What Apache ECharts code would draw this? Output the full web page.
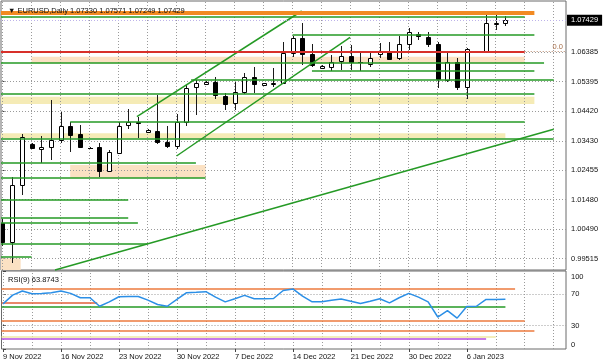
<!DOCTYPE html>
<html><head><meta charset="utf-8">
<script src="https://cdn.jsdelivr.net/npm/echarts@6/dist/echarts.min.js"></script>
<style>html,body{margin:0;padding:0;background:#fff}#c{width:605px;height:363px}</style>
</head><body><div id="c"></div>
<script>
// ---------- data ----------
const titleText = '\u25BC EURUSD,Daily 1.07330 1.07571 1.07249 1.07429';
const rsiText = 'RSI(9) 63.8743';
const tickBars = [0, 6, 12, 18, 24, 30, 36, 42, 48];
const tickLabels = ['9 Nov 2022', '16 Nov 2022', '23 Nov 2022', '30 Nov 2022', '7 Dec 2022', '14 Dec 2022', '21 Dec 2022', '30 Dec 2022', '6 Jan 2023'];
const gridBars = [0, 3, 6, 9, 12, 15, 18, 21, 24, 27, 30, 33, 36, 39, 42, 45, 48, 51, 54, 57];
const priceTicks = [0.99515, 1.00490, 1.01480, 1.02455, 1.03430, 1.04420, 1.05395, 1.06385];
const rsiTicks = [0, 30, 70, 100];
const rsiGrid = [30, 70];
const lastPrice = 1.07429;

const opens  = [1.00709,1.00079,1.01961,1.03322,1.03146,1.03213,1.03455,1.03920,1.03644,1.03205,
                1.03213,1.02426,1.03033,1.03950,1.04040,1.03721,1.03754,1.03399,1.03256,1.04063,
                1.05225,1.05314,1.05391,1.04916,1.04673,1.05058,1.05537,1.05281,1.05330,1.05357,
                1.06333,1.06831,1.06310,1.05835,1.05889,1.06088,1.06244,1.06050,1.05978,1.06300,
                1.06387,1.06167,1.06632,1.06974,1.06865,1.06632,1.05447,1.06055,1.05225,1.06390,
                1.06420,1.07320,1.07330];
const highs  = [1.00832,1.02237,1.03644,1.03355,1.03588,1.04783,1.04395,1.04063,1.03950,1.03223,
                1.03345,1.03123,1.04063,1.04474,1.04229,1.03804,1.04949,1.03920,1.04318,1.05281,
                1.05447,1.05430,1.05537,1.05016,1.05391,1.05670,1.05889,1.05347,1.05845,1.06719,
                1.06908,1.07350,1.06642,1.05945,1.06277,1.06576,1.06609,1.06387,1.06333,1.06685,
                1.06719,1.06908,1.07163,1.07051,1.07051,1.06719,1.06387,1.06177,1.06499,1.06426,
                1.07605,1.07605,1.07571];
const lows   = [0.99936,0.99361,1.01629,1.03156,1.02701,1.02791,1.03345,1.03067,1.03199,1.03173,
                1.02217,1.02403,1.03013,1.03810,1.03511,1.03704,1.03322,1.03199,1.03146,1.03920,
                1.04285,1.05281,1.04806,1.04451,1.04451,1.04972,1.05025,1.05265,1.05215,1.05330,
                1.06201,1.05945,1.05889,1.05812,1.05756,1.05779,1.05779,1.05756,1.05889,1.06167,
                1.06111,1.06111,1.06443,1.06775,1.06553,1.05171,1.05391,1.05115,1.04806,1.06360,
                1.06377,1.07107,1.07249];
const closes = [1.00079,1.01961,1.03545,1.03179,1.03213,1.03455,1.03920,1.03621,1.03233,1.03199,
                1.02426,1.03047,1.03930,1.04040,1.04010,1.03787,1.03399,1.03256,1.04063,1.05181,
                1.05338,1.05391,1.04949,1.04660,1.05058,1.05557,1.05314,1.05338,1.05360,1.06333,
                1.06831,1.06310,1.05945,1.05922,1.06055,1.06244,1.06045,1.06040,1.06167,1.06370,
                1.06144,1.06632,1.07051,1.06908,1.06642,1.05470,1.06055,1.05205,1.06466,1.06387,
                1.07330,1.07330,1.07429];
const rsi = [57.8,69.1,74.3,70.9,71.3,72.2,74.3,71.3,65.7,65.7,
             54.8,60.4,67.0,67.4,67.4,62.6,57.0,54.8,63.5,72.2,
             72.6,73.5,66.5,60.4,64.4,68.7,64.4,64.4,64.8,75.0,
             77.0,67.8,60.5,60.5,62.6,64.0,61.3,58.3,61.3,64.4,
             59.2,65.7,71.3,66.5,60.5,41.0,49.2,39.6,54.5,54.8,
             63.5,63.5,63.87];

// drawn analysis objects (price, fromBar, toBar); null = from chart's left edge / to right edge
const greenLevels = [[1.07562,null,54],[1.06941,30,55],[1.06021,null,56],[1.05746,32,55],[1.05447,19.5,57],
                     [1.05005,null,55],[1.04063,7,54],[1.03512,null,57],[1.02691,null,20],[1.02193,null,21],
                     [1.01463,null,13],[1.00889,null,13],[1.00722,null,14],[1.00002,null,15],[0.99581,null,3]];
const trendLines = [[13.9,1.04229,30.94,1.07738],[18,1.02924,35.94,1.06865],[5.43,0.99139,57,1.03810]];
const redLevel = [1.06387, null, 54];
const orangeLevel = [1.07695, null, 55];
const zones = [[1.06221,1.06002,3,54,'peach'],[1.04893,1.04650,null,55,'yellow'],[1.03678,1.03512,null,52,'yellow'],
               [1.02625,1.02193,7,21,'peach'],[0.99527,0.99139,null,1.88,'peach']];
const rsiLevels = [[77.4,null,53,'orange'],[59.2,null,9.75,'red'],[54.8,null,52,'green'],[36.1,null,54,'orange'],
                   [23.1,null,55,'orange'],[15.7,null,51,'paleyellow'],[12.8,null,50,'purple']];

// ---------- chart ----------
const XMIN = -0.155, XMAX = 58.27, PMIN = 0.99139, PMAX = 1.0807;
const FONT = 'Liberation Sans';
const COL = {green:'#259a25', red:'#d8302a', orange:'#f28a22', peach:'#fbe1c3', yellow:'#f5ebb6',
             paleyellow:'#efe9a6', purple:'#b64fe0', rsiorange:'#ec7a3e', rsired:'#e2603a', blue:'#2b8fe6',
             grid:'#9a9a9a'};
const L = v => v === null ? XMIN : v;
const R = v => v === null ? XMAX : v;

function renderCandle(params, api) {
  const i = api.value(0), o = api.value(1), c = api.value(2), l = api.value(3), h = api.value(4);
  const po = api.coord([i, o]), pc = api.coord([i, c]), pl = api.coord([i, l]), ph = api.coord([i, h]);
  const x = Math.round(po[0]) + 0.5;
  const yt = Math.round(Math.min(po[1], pc[1])) + 0.5, yb = Math.round(Math.max(po[1], pc[1])) + 0.5;
  const children = [{type:'line', shape:{x1:x, y1:Math.round(ph[1]), x2:x, y2:Math.round(pl[1])}, style:{stroke:'#1a1a1a', lineWidth:1}}];
  if (yb - yt < 1) {
    children.push({type:'line', shape:{x1:x-2.5, y1:yt, x2:x+2.5, y2:yt}, style:{stroke:'#000', lineWidth:1}});
  } else {
    children.push({type:'rect', shape:{x:x-2, y:yt, width:4, height:yb-yt}, style:{fill: c >= o ? '#fff' : '#000', stroke:'#000', lineWidth:1}});
  }
  return {type:'group', children};
}

const seg = (x1, y1, x2, y2, color, width, type, label) => [
  {coord:[x1, y1], lineStyle:{color, width, type: type || 'solid'}, label: label || {show:false}},
  {coord:[x2, y2]}
];

// dotted chart grid (vertical every 3 bars, horizontal at price scale marks)
const mainGrid = [];
gridBars.forEach(b => mainGrid.push(seg(b, PMIN, b, PMAX, COL.grid, 1, [1,2])));
priceTicks.forEach(p => mainGrid.push(seg(XMIN, p, XMAX, p, COL.grid, 1, [1,2])));
const rsiGridLines = [];
gridBars.forEach(b => rsiGridLines.push(seg(b, 0, b, 100, COL.grid, 1, [1,2])));
rsiGrid.forEach(v => rsiGridLines.push(seg(XMIN, v, XMAX, v, COL.grid, 1, [1,2])));

const mainLines = [];
greenLevels.forEach(g => mainLines.push(seg(L(g[1]), g[0], R(g[2]), g[0], COL.green, 1.5)));
trendLines.forEach(t => mainLines.push(seg(t[0], t[1], t[2], t[3], COL.green, 1.5)));
mainLines.push(seg(L(redLevel[1]), redLevel[0], R(redLevel[2]), redLevel[0], COL.red, 2));
mainLines.push(seg(redLevel[2], redLevel[0], XMAX, redLevel[0], '#b8876a', 1, [1,2],
  {show:true, formatter:'0.0', position:'insideEndTop', distance:[3,1], color:'#a8704c', fontFamily:FONT, fontSize:7.5}));
mainLines.push(seg(L(orangeLevel[1]), orangeLevel[0], R(orangeLevel[2]), orangeLevel[0], COL.orange, 4));
mainLines.push(seg(XMIN, lastPrice, XMAX, lastPrice, '#bdb3ea', 1, [1,2],
  {show:true, formatter: lastPrice.toFixed(5), position:'end', distance:1, color:'#fff', backgroundColor:'#000',
   padding:[2,4,1,4], fontFamily:FONT, fontSize:7.5}));

const zoneAreas = zones.map(z => [
  {coord:[L(z[2]), z[0]], itemStyle:{color: COL[z[4]]}},
  {coord:[R(z[3]), z[1]]}
]);

const rsiLines = rsiLevels.map(r => seg(L(r[1]), r[0], R(r[2]), r[0],
  r[3] === 'orange' ? COL.rsiorange : r[3] === 'red' ? COL.rsired : COL[r[3]], 1.5));

const txt = {fontFamily:FONT, fontSize:7.5, color:'#111'};

const option = {
  animation:false,
  backgroundColor:'#fff',
  title:[
    {text:titleText, left:3, top:2, textStyle:Object.assign({fontWeight:'normal'}, txt)},
    {text:rsiText, left:3, top:271, textStyle:Object.assign({fontWeight:'normal'}, txt)}
  ],
  grid:[
    {left:1, top:1, width:565, height:269, show:true, borderColor:'#6a6a6a', borderWidth:1},
    {left:1, top:271, width:565, height:78, show:true, borderColor:'#6a6a6a', borderWidth:1}
  ],
  xAxis:[
    {type:'value', gridIndex:0, min:XMIN, max:XMAX, axisLine:{show:false},
     axisTick:{show:false}, axisLabel:{show:false}, splitLine:{show:false}},
    {type:'value', gridIndex:1, min:XMIN, max:XMAX, axisLine:{show:false},
     axisTick:{show:true, length:3, customValues:tickBars, lineStyle:{color:'#444'}},
     axisLabel:Object.assign({show:true, customValues:tickBars, align:'left', margin:4,
       formatter: v => { const k = tickBars.indexOf(Math.round(v)); return k >= 0 ? tickLabels[k] : ''; }}, txt),
     splitLine:{show:false}}
  ],
  yAxis:[
    {type:'value', gridIndex:0, position:'right', min:PMIN, max:PMAX, axisLine:{show:false},
     axisTick:{show:true, length:3, customValues:priceTicks, lineStyle:{color:'#444'}},
     axisLabel:Object.assign({customValues:priceTicks, margin:5, formatter: v => v.toFixed(5)}, txt),
     splitLine:{show:false}},
    {type:'value', gridIndex:1, position:'right', min:0, max:100, axisLine:{show:false},
     axisTick:{show:true, length:3, customValues:rsiTicks, lineStyle:{color:'#444'}},
     axisLabel:Object.assign({customValues:rsiTicks, margin:5, showMaxLabel:true, showMinLabel:true, hideOverlap:false,
       formatter: v => v === 100 ? '{top|100}' : v === 0 ? '{bot|0}' : String(v),
       rich:{top:{padding:[11,0,0,0], fontFamily:FONT, fontSize:7.5, color:'#111'},
             bot:{padding:[0,0,9,0], fontFamily:FONT, fontSize:7.5, color:'#111'}}}, txt),
     splitLine:{show:false}}
  ],
  series:[
    {type:'line', name:'zones', xAxisIndex:0, yAxisIndex:0, data:[], z:1, silent:true,
     markArea:{silent:true, z:1, data:zoneAreas},
     markLine:{silent:true, symbol:['none','none'], z:1, label:{show:false}, data:mainGrid}},
    {type:'custom', name:'EURUSD,Daily', xAxisIndex:0, yAxisIndex:0, z:2, clip:true,
     data: opens.map((o, i) => [i, o, closes[i], lows[i], highs[i]]),
     encode:{x:0, y:[1,2,3,4]}, renderItem:renderCandle},
    {type:'line', name:'objects', xAxisIndex:0, yAxisIndex:0, data:[], z:3, silent:true,
     markLine:{silent:true, symbol:['none','none'], z:5, label:{show:false}, data:mainLines}},
    {type:'line', name:'RSI(9)', xAxisIndex:1, yAxisIndex:1, z:4, symbol:'none', showSymbol:false,
     data: rsi.map((v, i) => [i, v]), lineStyle:{color:COL.blue, width:1.5}},
    {type:'line', name:'rsiLevels', xAxisIndex:1, yAxisIndex:1, data:[], z:3, silent:true,
     markLine:{silent:true, symbol:['none','none'], z:3, label:{show:false}, data:rsiGridLines.concat(rsiLines)}}
  ]
};
const chart = echarts.init(document.getElementById('c'));
chart.setOption(option);
</script>
</body></html>
